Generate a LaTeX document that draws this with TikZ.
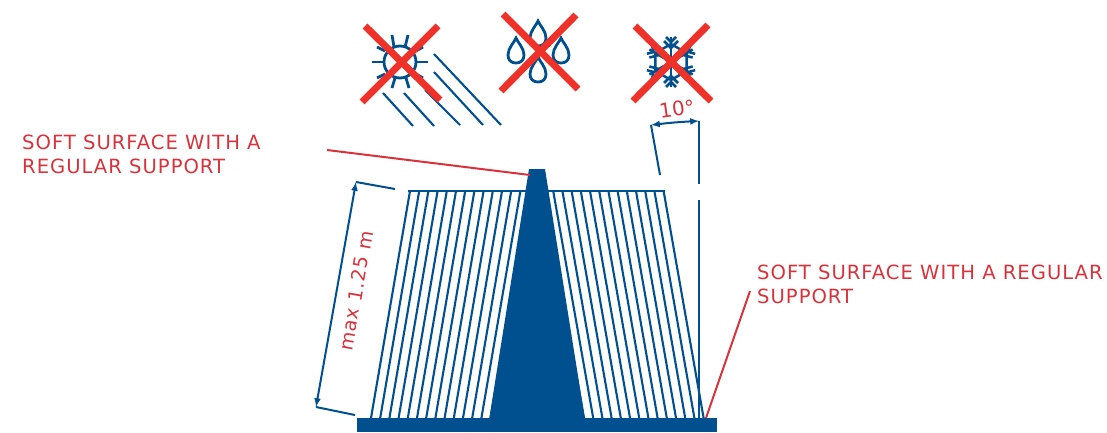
\documentclass[tikz,border=0pt]{standalone}
\usepackage{fontspec}
\setmainfont{DejaVu Sans}
\newfontfamily\labelfont[LetterSpace=5]{DejaVu Sans}
\definecolor{signblue}{HTML}{00508F}
\definecolor{labelred}{HTML}{D8323C}
\definecolor{crossred}{HTML}{EE3129}
\tikzset{
  fin/.style={draw=signblue,line width=2.1pt},
  dimline/.style={draw=signblue,line width=2pt},
  icon/.style={draw=signblue,line width=2.8pt},
  flake/.style={draw=signblue,line width=2.5pt},
  cross/.style={draw=crossred,line width=7pt},
  leader/.style={draw=labelred,line width=2pt},
  redlabel/.style={text=labelred,font=\labelfont\fontsize{19.6}{24}\selectfont,align=left,inner sep=0pt},
  raindrop/.pic={
    \draw[icon] (0,-13) .. controls (1.5,-9) and (8,-3) .. (8,4)
      .. controls (8,9) and (5,12) .. (0,12)
      .. controls (-5,12) and (-8,9) .. (-8,4)
      .. controls (-8,-3) and (-1.5,-9) .. (0,-13) -- cycle;
  },
  flakearm/.pic={
    \draw[flake] (0,0) -- (0,-25);
    \draw[flake] (-5,-25) -- (0,-20) -- (5,-25);
    \draw[flake] (-7,-21) -- (0,-14) -- (7,-21);
    \draw[flake] (0,-18) -- (15.6,-9);
  }
}
\begin{document}
\begin{tikzpicture}[x=1pt,y=-1pt,>=latex]
\useasboundingbox (0,0) rectangle (1107,432);

% Left fan
\draw[fin] (410,191) -- (371,418) (419.2,191) -- (380.2,418) (428.4,191) -- (389.4,418)
  (437.6,191) -- (398.6,418) (446.8,191) -- (407.8,418) (456,191) -- (417,418)
  (465.2,191) -- (426.2,418) (474.4,191) -- (435.4,418) (483.6,191) -- (444.6,418)
  (492.8,191) -- (453.8,418) (502,191) -- (463,418) (511.2,191) -- (472.2,418)
  (520.4,191) -- (481.4,418) (529.6,191) -- (490.6,418);

% Right fan
\draw[fin] (544,191) -- (584,418) (553.2,191) -- (593.2,418) (562.4,191) -- (602.4,418)
  (571.6,191) -- (611.6,418) (580.8,191) -- (620.8,418) (590,191) -- (630,418)
  (599.2,191) -- (639.2,418) (608.4,191) -- (648.4,418) (617.6,191) -- (657.6,418)
  (626.8,191) -- (666.8,418) (636,191) -- (676,418) (645.2,191) -- (685.2,418)
  (654.4,191) -- (694.4,418) (663.6,191) -- (703.6,418);

% Top rail
\draw[fin] (408,191) -- (665,191);

% Central post and base
\fill[signblue] (529,169) -- (545,169) -- (585,420) -- (489,420) -- cycle;
\fill[signblue] (357,418) rectangle (717,432);

% Slope dimension
\draw[dimline] (699,121) -- (699,184);
\draw[dimline] (699,200) -- (699,418);
\draw[dimline] (651,125) -- (660,175);
\draw[dimline,<->] (651,125) to[bend left=2] (699,121);
\node[text=labelred,font=\fontsize{20}{20}\selectfont,rotate=8] (anglelabel) at (677,109) {10°};

% Height dimension
\draw[dimline] (395,189) -- (356,182);
\draw[dimline] (355,415) -- (316,407);
\draw[dimline,<->] (356,182) -- (316,407);
\node[text=labelred,font=\labelfont\fontsize{19}{20}\selectfont,rotate=80] (heightlabel) at (356,291) {max 1.25 m};

% Labels and leaders
\node[redlabel,anchor=north west] (leftlabel) at (22,135) {SOFT SURFACE WITH A\\REGULAR SUPPORT};
\node[redlabel,anchor=north west] (rightlabel) at (757,265) {SOFT SURFACE WITH A REGULAR\\SUPPORT};
\coordinate (leftstart) at (327,150);
\coordinate (lefttip) at (530,175);
\coordinate (rightstart) at (750,291);
\coordinate (righttip) at (706,418);
\draw[leader] (leftstart) -- (lefttip);
\draw[leader] (rightstart) -- (righttip);

% Sun and slanted rain
\draw[icon] (400,62) circle (16);
\draw[icon] (372,62) -- (384,62);
\draw[icon] (416,62) -- (428,62);
\draw[icon] (392,35) -- (394,47);
\draw[icon] (408,35) -- (405,47);
\draw[icon] (392,88) -- (395,78);
\draw[icon] (409,88) -- (406,78);
\draw[icon] (377,47) -- (385,51);
\draw[icon] (423,47) -- (416,51);
\draw[icon] (377,78) -- (385,74);
\draw[icon] (423,78) -- (416,74);
\draw[fin] (434,54) -- (501,125);
\draw[fin] (434,72) -- (483,125);
\draw[fin] (425,90) -- (460,125);
\draw[fin] (404,93) -- (434,126);
\draw[fin] (383,93) -- (413,126);
\draw[cross] (365,26) -- (440,100);
\draw[cross] (438,26) -- (362,102);

% Drops
\pic at (516,51) {raindrop};
\pic at (561,51) {raindrop};
\pic at (538,34) {raindrop};
\pic at (538,70) {raindrop};
\draw[cross] (503,14) -- (578,89);
\draw[cross] (576,15) -- (501,91);

% Snowflake
\pic[rotate=0] at (671,62) {flakearm};
\pic[rotate=60] at (671,62) {flakearm};
\pic[rotate=120] at (671,62) {flakearm};
\pic[rotate=180] at (671,62) {flakearm};
\pic[rotate=240] at (671,62) {flakearm};
\pic[rotate=300] at (671,62) {flakearm};
\draw[cross] (635,26) -- (711,101);
\draw[cross] (708,25) -- (633,101);

\end{tikzpicture}
\end{document}
